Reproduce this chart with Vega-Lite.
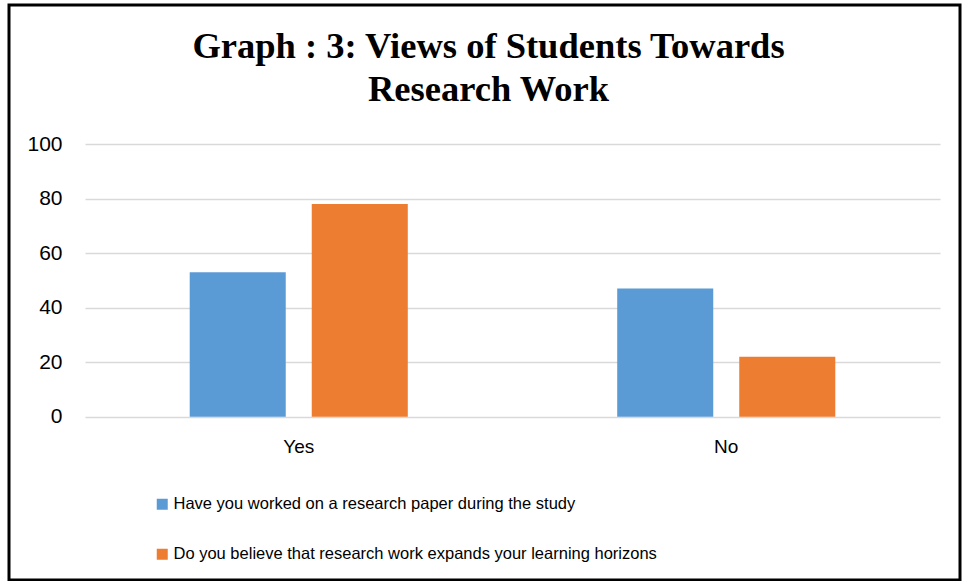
{
  "$schema": "https://vega.github.io/schema/vega-lite/v6.json",
  "autosize": "none",
  "width": 951,
  "height": 575,
  "padding": {"left": 9, "top": 5, "right": 2, "bottom": 1},
  "background": "white",
  "title": {
    "text": ["Graph : 3: Views of Students Towards", "Research Work"],
    "font": "Liberation Serif",
    "fontSize": 36.5,
    "fontWeight": "bold",
    "color": "#000000",
    "lineHeight": 43,
    "anchor": "middle",
    "dx": 4,
    "offset": -103
  },
  "data": {
    "values": [
      {"answer": "Yes", "question": "Have you worked on a research paper during the study", "percent": 53},
      {"answer": "Yes", "question": "Do you believe that research work expands your learning horizons", "percent": 78},
      {"answer": "No", "question": "Have you worked on a research paper during the study", "percent": 47},
      {"answer": "No", "question": "Do you believe that research work expands your learning horizons", "percent": 22}
    ]
  },
  "mark": {"type": "bar"},
  "encoding": {
    "x": {
      "field": "answer",
      "type": "nominal",
      "sort": ["Yes", "No"],
      "scale": {"range": [76, 931], "paddingInner": 0, "paddingOuter": 0},
      "axis": {
        "title": null,
        "grid": false,
        "ticks": false,
        "domain": false,
        "labelAngle": 0,
        "offset": -163.3,
        "labelPadding": 21,
        "labelFont": "Liberation Sans",
        "labelFontSize": 19,
        "labelColor": "#000000"
      }
    },
    "xOffset": {
      "field": "question",
      "type": "nominal",
      "sort": ["Have you worked on a research paper during the study", "Do you believe that research work expands your learning horizons"],
      "scale": {"paddingInner": 0.213, "paddingOuter": 0.858}
    },
    "y": {
      "field": "percent",
      "type": "quantitative",
      "scale": {"domain": [0, 100], "range": [411.7, 139], "nice": false},
      "axis": {
        "title": null,
        "values": [0, 20, 40, 60, 80, 100],
        "ticks": false,
        "domain": false,
        "offset": -61,
        "labelPadding": 8,
        "labelFont": "Liberation Sans",
        "labelFontSize": 21,
        "labelColor": "#000000",
        "gridColor": "#D9D9D9",
        "gridWidth": 1.5
      }
    },
    "color": {
      "field": "question",
      "type": "nominal",
      "sort": ["Have you worked on a research paper during the study", "Do you believe that research work expands your learning horizons"],
      "scale": {"range": ["#5B9BD5", "#ED7D31"]},
      "legend": {
        "title": null,
        "orient": "none",
        "legendX": 145,
        "legendY": 491,
        "direction": "vertical",
        "symbolType": "square",
        "symbolSize": 121,
        "symbolStrokeWidth": 0,
        "labelFont": "Liberation Sans",
        "labelFontSize": 16.5,
        "labelColor": "#000000",
        "labelLimit": 800,
        "labelOffset": 3,
        "rowPadding": 33
      }
    }
  },
  "config": {
    "view": {"stroke": "#000000", "strokeWidth": 3, "fill": "white"}
  }
}
